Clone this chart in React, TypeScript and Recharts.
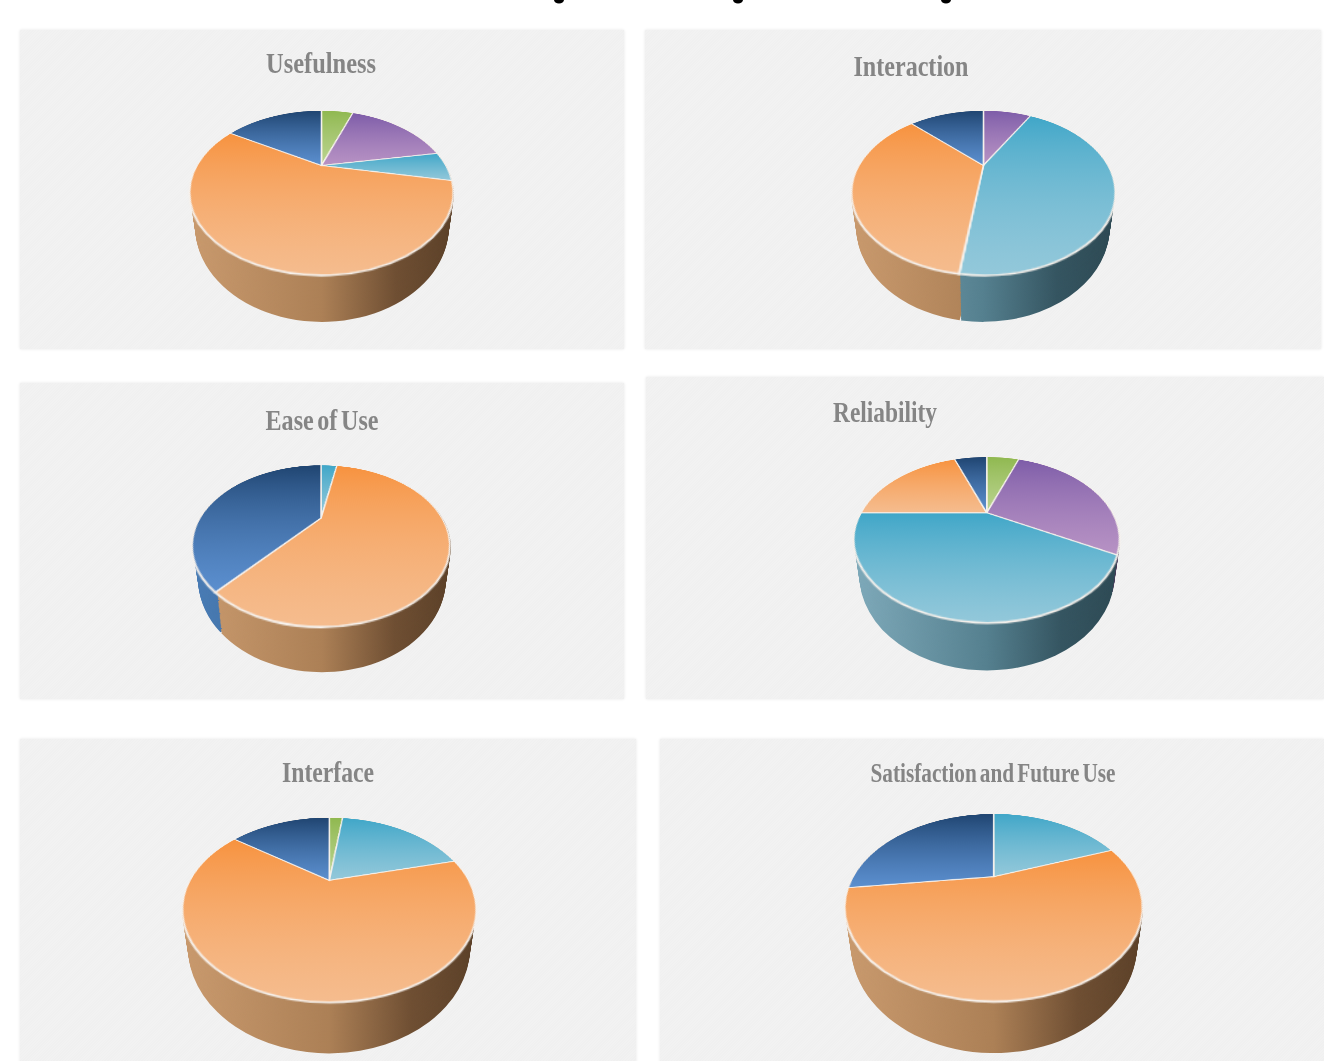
import { PieChart, Pie, Cell } from 'recharts';

// slice order runs clockwise from twelve o'clock
const sliceKeys = ['green', 'purple', 'teal', 'orange', 'blue'];

const titles = ['Usefulness', 'Interaction', 'Ease of Use', 'Reliability', 'Interface', 'Satisfaction and Future Use'];

const usefulness = [5.4, 16.8, 5.9, 55.5, 16.4];
const interaction = [0, 8.1, 44, 35.3, 12.6];
const easeOfUse = [0, 0, 2.8, 58.3, 38.9];
const reliability = [5.4, 27.6, 42, 19.6, 5.4];
const interfaceScores = [2, 0, 19, 64, 15];
const satisfaction = [0, 0, 19.3, 53.7, 27];

const seriesList = [usefulness, interaction, easeOfUse, reliability, interfaceScores, satisfaction];

// the page heading is cut off by the top edge, only its descender stubs remain
const headingStubs = [559, 738, 946];

// top face gradient, top to bottom of each slice
const faceStops: Record<string, string[]> = {
    green: ['#8FB84F', '#BAD38F'],
    purple: ['#7D5CA8', '#B792C4'],
    teal: ['#3FA6C8', '#93C8DA'],
    orange: ['#F7923E', '#F5BC8E'],
    blue: ['#1F4470', '#5B8FCF'],
};

// side wall gradient, left to right across the pie
const wallStops: Record<string, string[]> = {
    green: ['#9DB56F', '#7F9656', '#5F7040', '#4F5F33'],
    purple: ['#9A82B4', '#77608F', '#59476C', '#483A58'],
    teal: ['#7FAABA', '#55808F', '#355561', '#2E4A54'],
    orange: ['#C99A6E', '#AC8056', '#6F4F33', '#5C4129'],
    blue: ['#4A7DB6', '#3A6390', '#2B4A6C', '#233D5A'],
};

const panels = [
    { x: 20, y: 30, w: 604, h: 319, titleX: 321, titleY: 73, titleW: 110, titleSize: 30, cx: 321.5, apexY: 165, rx: 132, topY: 110, bottomY: 275, depth: 47 },
    { x: 645, y: 30, w: 676, h: 319, titleX: 911, titleY: 76, titleW: 115, titleSize: 30, cx: 983, apexY: 165, rx: 132, topY: 110, bottomY: 275, depth: 47 },
    { x: 20, y: 383, w: 604, h: 316, titleX: 322, titleY: 430, titleW: 113, titleSize: 30, cx: 321.5, apexY: 518, rx: 129, topY: 465, bottomY: 627, depth: 45 },
    { x: 646, y: 377, w: 678, h: 322, titleX: 885, titleY: 422, titleW: 104, titleSize: 30, cx: 987, apexY: 513, rx: 133, topY: 457, bottomY: 623, depth: 47 },
    { x: 20, y: 739, w: 616, h: 330, titleX: 328, titleY: 782, titleW: 92, titleSize: 29, cx: 329, apexY: 880, rx: 147, topY: 817, bottomY: 1002, depth: 51 },
    { x: 660, y: 739, w: 664, h: 330, titleX: 993, titleY: 782, titleW: 245, titleSize: 28, cx: 994, apexY: 877, rx: 149, topY: 814, bottomY: 1002, depth: 51 },
];

const LAYERS = 30;
const BASE_WIDTH = 0.96; // foot of the pie is narrower than the face
const BASE_HEIGHT = 1.15; // and its ellipse is rounder
const noMargin = { top: 0, right: 0, bottom: 0, left: 0 };

type Panel = (typeof panels)[number];

// perspective numbers for one pie: the flat disc projects to an ellipse whose centre sits below the apex
function projection(p: Panel) {
    const top = p.apexY - p.topY;
    const bottom = p.bottomY - p.apexY;
    const k = (top - bottom) / (top + bottom);
    const a = p.rx * Math.sqrt(1 - k * k);
    const b = (2 * top * bottom) / (top + bottom);
    const ry = (top + bottom) / 2;
    const yc = (bottom - top) / 2;
    return { k, a, b, ry, yc };
}

// where a slice boundary lands on the ellipse rim, as an angle around the ellipse centre
function rimAngle(p: Panel, deg: number) {
    const { k, a, b, ry, yc } = projection(p);
    const rad = (deg * Math.PI) / 180;
    const u = Math.sin(rad);
    const v = -Math.cos(rad);
    const w = 1 + k * v;
    const x = (a * u) / w;
    const y = (b * v) / w;
    let phi = (Math.atan2(x / p.rx, -(y - yc) / ry) * 180) / Math.PI;
    if (phi < 0) phi += 360;
    return phi;
}

function faceData(values: number[]) {
    return values
        .map((value, i) => ({ key: sliceKeys[i], value }))
        .filter((d) => d.value > 0);
}

function wallData(p: Panel, values: number[]) {
    const items = faceData(values);
    const total = items.reduce((acc, d) => acc + d.value, 0);
    let cumulative = 0;
    let prev = 0;
    return items.map((d, i) => {
        cumulative += d.value;
        const end = i === items.length - 1 ? 360 : rimAngle(p, (cumulative / total) * 360);
        const span = end - prev;
        prev = end;
        return { key: d.key, value: span };
    });
}

function PieFace({ panel, values, id }: { panel: Panel; values: number[]; id: number }) {
    const { k, a, b } = projection(panel);
    const data = faceData(values);
    const half = a + 4;
    const size = half * 2;
    const matrix = `matrix3d(1,0,0,0, 0,${b / a},0,${k / a}, 0,0,1,0, 0,0,0,1)`;
    return (
        <div
            style={{
                position: 'absolute',
                left: panel.cx - half,
                top: panel.apexY - half,
                width: size,
                height: size,
                transformOrigin: `${half}px ${half}px`,
                transform: matrix,
            }}
        >
            <PieChart width={size} height={size} margin={noMargin}>
                <defs>
                    {data.map((d) => (
                        <linearGradient key={d.key} id={`face-${id}-${d.key}`} x1="0" y1="0" x2="0" y2="1">
                            <stop offset="0%" stopColor={faceStops[d.key][0]} />
                            <stop offset="100%" stopColor={faceStops[d.key][1]} />
                        </linearGradient>
                    ))}
                </defs>
                <Pie
                    data={data}
                    dataKey="value"
                    cx={half}
                    cy={half}
                    innerRadius={0}
                    outerRadius={a}
                    startAngle={90}
                    endAngle={-270}
                    stroke="#f6f1ec"
                    strokeWidth={1.6}
                    isAnimationActive={false}
                >
                    {data.map((d) => (
                        <Cell key={d.key} fill={`url(#face-${id}-${d.key})`} />
                    ))}
                </Pie>
            </PieChart>
        </div>
    );
}

// the wall is a stack of ellipses, each its own squashed chart, going from the foot up to the face
function PieWall({ panel, values, id }: { panel: Panel; values: number[]; id: number }) {
    const { ry, yc } = projection(panel);
    const data = wallData(panel, values);
    const half = panel.rx + 4;
    const footRy = ry * BASE_HEIGHT;
    const footY = panel.bottomY + panel.depth - footRy;
    const faceY = panel.apexY + yc;
    const layers = Array.from({ length: LAYERS }, (_, i) => LAYERS - i);
    return (
        <>
            <svg width={0} height={0} style={{ position: 'absolute' }}>
                <defs>
                    {data.map((d) => (
                        <linearGradient
                            key={d.key}
                            id={`wall-${id}-${d.key}`}
                            gradientUnits="userSpaceOnUse"
                            x1={half - panel.rx}
                            y1="0"
                            x2={half + panel.rx}
                            y2="0"
                        >
                            <stop offset="0%" stopColor={wallStops[d.key][0]} />
                            <stop offset="50%" stopColor={wallStops[d.key][1]} />
                            <stop offset="78%" stopColor={wallStops[d.key][2]} />
                            <stop offset="100%" stopColor={wallStops[d.key][3]} />
                        </linearGradient>
                    ))}
                </defs>
            </svg>
            {layers.map((layer) => {
                const f = layer / LAYERS;
                const layerRx = panel.rx * (1 - (1 - BASE_WIDTH) * f);
                const layerRy = ry + (footRy - ry) * f;
                const layerY = faceY + (footY - faceY) * f;
                return (
                    <div
                        key={layer}
                        style={{
                            position: 'absolute',
                            left: panel.cx - half,
                            top: layerY - half,
                            width: half * 2,
                            height: half * 2,
                            transform: `scaleY(${layerRy / layerRx})`,
                        }}
                    >
                        <PieChart width={half * 2} height={half * 2} margin={noMargin}>
                            <Pie
                                data={data}
                                dataKey="value"
                                cx={half}
                                cy={half}
                                innerRadius={0}
                                outerRadius={layerRx}
                                startAngle={90}
                                endAngle={-270}
                                paddingAngle={0.6}
                                stroke="none"
                                isAnimationActive={false}
                            >
                                {data.map((d) => (
                                    <Cell key={d.key} fill={`url(#wall-${id}-${d.key})`} />
                                ))}
                            </Pie>
                        </PieChart>
                    </div>
                );
            })}
        </>
    );
}

function Background({ panel }: { panel: Panel }) {
    return (
        <div
            style={{
                position: 'absolute',
                left: panel.x,
                top: panel.y,
                width: panel.w,
                height: panel.h,
                background: 'repeating-linear-gradient(135deg, #f2f2f2 0px, #f2f2f2 1px, #f0f0f0 1px, #f0f0f0 2px)',
                boxShadow: '0 0 3px #e6e6e6',
            }}
        />
    );
}

function Title({ panel, text }: { panel: Panel; text: string }) {
    return (
        <text
            x={panel.titleX}
            y={panel.titleY}
            textAnchor="middle"
            textLength={panel.titleW}
            lengthAdjust="spacingAndGlyphs"
            fontFamily="'Liberation Serif', serif"
            fontWeight={700}
            fontSize={panel.titleSize}
            wordSpacing={-3}
            fill="#858585"
        >
            {text}
        </text>
    );
}

export default function App() {
    return (
        <div
            style={{
                position: 'absolute',
                left: 0,
                top: 0,
                width: 1324,
                height: 1061,
                overflow: 'hidden',
                background: '#ffffff',
            }}
        >
            {panels.map((panel, i) => (
                <Background key={i} panel={panel} />
            ))}
            {panels.map((panel, i) => (
                <PieWall key={i} panel={panel} values={seriesList[i]} id={i} />
            ))}
            {panels.map((panel, i) => (
                <PieFace key={i} panel={panel} values={seriesList[i]} id={i} />
            ))}
            <svg width={1324} height={1061} style={{ position: 'absolute', left: 0, top: 0 }}>
                {panels.map((panel, i) => (
                    <Title key={i} panel={panel} text={titles[i]} />
                ))}
                {headingStubs.map((x) => (
                    <ellipse key={x} cx={x} cy={0} rx={5} ry={3.5} fill="#000000" />
                ))}
            </svg>
        </div>
    );
}
